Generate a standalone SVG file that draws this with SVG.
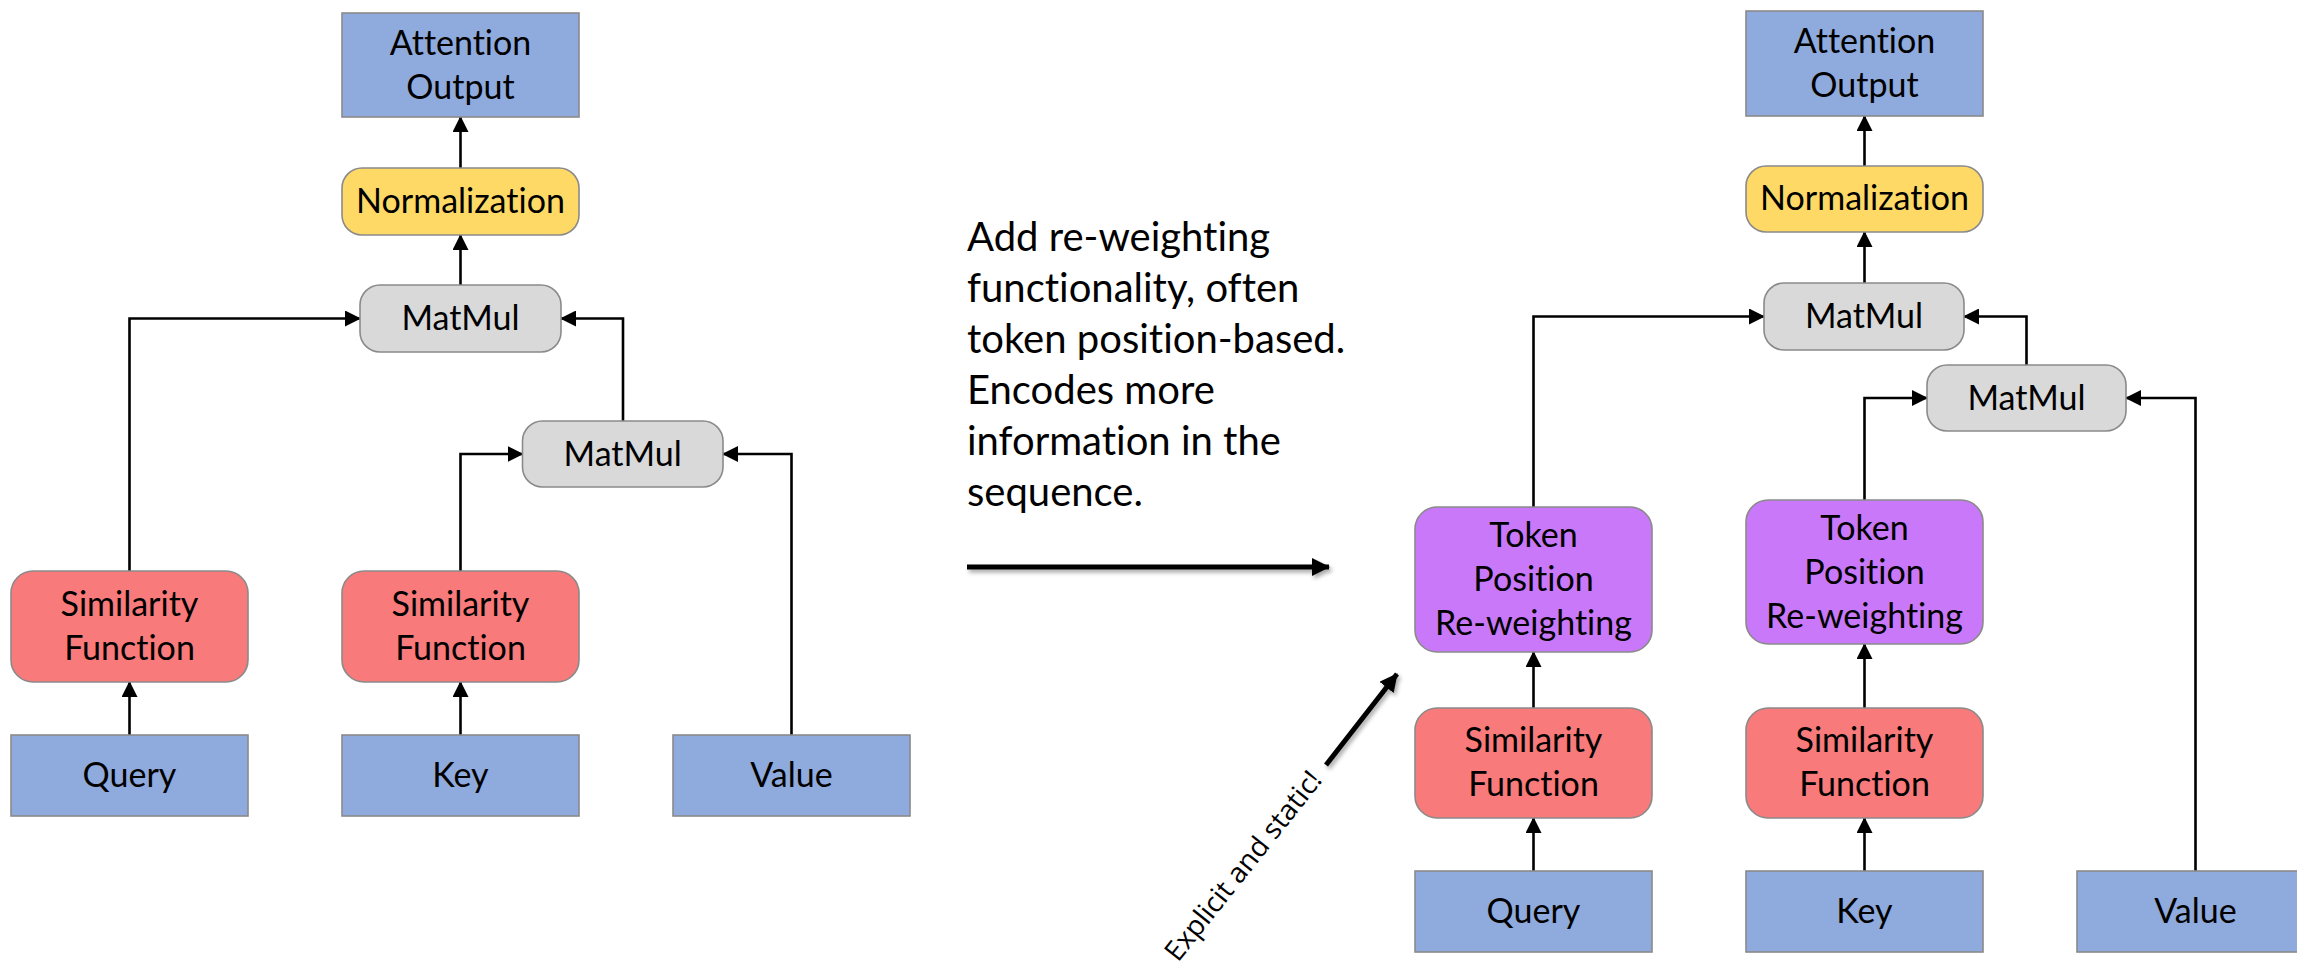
<svg xmlns="http://www.w3.org/2000/svg" width="2297" height="972" viewBox="0 0 2297 972">
  <defs>
    <style>
      text { font-variant-ligatures: none; }
      .box { stroke: #8a8a8a; stroke-width: 1.6; }
      .io { fill: #8faadc; }
      .norm { fill: #ffd966; }
      .mm { fill: #d9d9d9; }
      .sim { fill: #f87a7a; }
      .tok { fill: #c878f8; }
      .lbl { font-family: Lato, "Liberation Sans", sans-serif; font-size: 34px; fill: #000; text-anchor: middle; }
      .desc { font-family: Lato, "Liberation Sans", sans-serif; font-size: 40px; fill: #000; }
      .note { font-family: "Open Sans", "Liberation Sans", sans-serif; font-size: 28px; fill: #000; }
      .wire { fill: none; stroke: #000; stroke-width: 2.6; }
      .big { fill: none; stroke: #000; stroke-width: 5; }
    </style>
    <marker id="head" viewBox="0 0 16 16" refX="15" refY="8" markerWidth="16" markerHeight="16" markerUnits="userSpaceOnUse" orient="auto">
      <path d="M0,0 L16,8 L0,16 z" fill="#000"/>
    </marker>
    <marker id="bighead" viewBox="0 0 18 18" refX="17" refY="9" markerWidth="18" markerHeight="18" markerUnits="userSpaceOnUse" orient="auto">
      <path d="M0,0 L18,9 L0,18 z" fill="#000"/>
    </marker>
    <!-- soft drop shadow; user-space region so a flat horizontal line still renders -->
    <filter id="shadow" filterUnits="userSpaceOnUse" x="900" y="500" width="560" height="320">
      <feGaussianBlur in="SourceAlpha" stdDeviation="2"/>
      <feOffset dx="2" dy="3" result="b"/>
      <feComponentTransfer><feFuncA type="linear" slope="0.35"/></feComponentTransfer>
      <feMerge><feMergeNode/><feMergeNode in="SourceGraphic"/></feMerge>
    </filter>
  </defs>

  <rect width="2297" height="972" fill="#fff"/>

  <!-- connectors -->
  <g id="connectors">
    <!-- standard attention -->
    <path class="wire" d="M460.5,168 V117" marker-end="url(#head)"/>
    <path class="wire" d="M460.5,285 V235" marker-end="url(#head)"/>
    <path class="wire" d="M129.5,571 V318.5 H360" marker-end="url(#head)"/>
    <path class="wire" d="M623,421 V318.5 H561" marker-end="url(#head)"/>
    <path class="wire" d="M460.5,571 V454 H522.5" marker-end="url(#head)"/>
    <path class="wire" d="M791.5,735 V454 H723" marker-end="url(#head)"/>
    <path class="wire" d="M129.5,735 V682" marker-end="url(#head)"/>
    <path class="wire" d="M460.5,735 V682" marker-end="url(#head)"/>

    <!-- re-weighted attention -->
    <path class="wire" d="M1864.5,166 V116" marker-end="url(#head)"/>
    <path class="wire" d="M1864.5,283 V232" marker-end="url(#head)"/>
    <path class="wire" d="M1533.5,507 V316.5 H1764" marker-end="url(#head)"/>
    <path class="wire" d="M2026.5,365 V316.5 H1964" marker-end="url(#head)"/>
    <path class="wire" d="M1864.5,500 V398 H1927" marker-end="url(#head)"/>
    <path class="wire" d="M2195.5,871 V398 H2126" marker-end="url(#head)"/>
    <path class="wire" d="M1533.5,871 V818" marker-end="url(#head)"/>
    <path class="wire" d="M1864.5,871 V818" marker-end="url(#head)"/>
    <path class="wire" d="M1533.5,708 V652" marker-end="url(#head)"/>
    <path class="wire" d="M1864.5,708 V644" marker-end="url(#head)"/>

    <!-- transition arrows -->
    <path class="big" d="M967,567 H1329" marker-end="url(#bighead)" filter="url(#shadow)"/>
    <path class="big" d="M1326,765 L1397,674" marker-end="url(#bighead)" filter="url(#shadow)"/>
  </g>

  <!-- left: standard attention -->
  <g id="attn-out-a"><rect class="box io" x="342" y="13" width="237" height="104"/>
    <text class="lbl" x="460.5" y="55">Attention</text><text class="lbl" x="460.5" y="99">Output</text></g>
  <g id="norm-a"><rect class="box norm" x="342" y="168" width="237" height="67" rx="20"/>
    <text class="lbl" x="460.5" y="213">Normalization</text></g>
  <g id="matmul-a1"><rect class="box mm" x="360" y="285" width="201" height="67" rx="20"/>
    <text class="lbl" x="460.5" y="330">MatMul</text></g>
  <g id="matmul-a2"><rect class="box mm" x="522.5" y="421" width="200.5" height="66" rx="20"/>
    <text class="lbl" x="622.7" y="466">MatMul</text></g>
  <g id="sim-a1"><rect class="box sim" x="11" y="571" width="237" height="111" rx="22"/>
    <text class="lbl" x="129.5" y="616">Similarity</text><text class="lbl" x="129.5" y="660">Function</text></g>
  <g id="sim-a2"><rect class="box sim" x="342" y="571" width="237" height="111" rx="22"/>
    <text class="lbl" x="460.5" y="616">Similarity</text><text class="lbl" x="460.5" y="660">Function</text></g>
  <g id="query-a"><rect class="box io" x="11" y="735" width="237" height="81"/>
    <text class="lbl" x="129.5" y="787">Query</text></g>
  <g id="key-a"><rect class="box io" x="342" y="735" width="237" height="81"/>
    <text class="lbl" x="460.5" y="787">Key</text></g>
  <g id="value-a"><rect class="box io" x="673" y="735" width="237" height="81"/>
    <text class="lbl" x="791.5" y="787">Value</text></g>

  <!-- explanation -->
  <g id="explanation">
    <text class="desc" x="967" y="251">Add re-weighting</text>
    <text class="desc" x="967" y="302">functionality, often</text>
    <text class="desc" x="967" y="353">token position-based.</text>
    <text class="desc" x="967" y="404">Encodes more</text>
    <text class="desc" x="967" y="455">information in the</text>
    <text class="desc" x="967" y="506">sequence.</text>
  </g>
  <g id="note">
    <text class="note" transform="translate(1178,963) rotate(-51.5)">Explicit and static!</text>
  </g>

  <!-- right: attention with token position re-weighting -->
  <g id="attn-out-b"><rect class="box io" x="1746" y="11" width="237" height="105"/>
    <text class="lbl" x="1864.5" y="53">Attention</text><text class="lbl" x="1864.5" y="97">Output</text></g>
  <g id="norm-b"><rect class="box norm" x="1746" y="166" width="237" height="66" rx="20"/>
    <text class="lbl" x="1864.5" y="210">Normalization</text></g>
  <g id="matmul-b1"><rect class="box mm" x="1764" y="283" width="200" height="67" rx="20"/>
    <text class="lbl" x="1864" y="328">MatMul</text></g>
  <g id="matmul-b2"><rect class="box mm" x="1927" y="365" width="199" height="66" rx="20"/>
    <text class="lbl" x="2026.5" y="410">MatMul</text></g>
  <g id="token-b1"><rect class="box tok" x="1415" y="507" width="237" height="145" rx="22"/>
    <text class="lbl" x="1533.5" y="547">Token</text><text class="lbl" x="1533.5" y="591">Position</text><text class="lbl" x="1533.5" y="635">Re-weighting</text></g>
  <g id="token-b2"><rect class="box tok" x="1746" y="500" width="237" height="144" rx="22"/>
    <text class="lbl" x="1864.5" y="540">Token</text><text class="lbl" x="1864.5" y="584">Position</text><text class="lbl" x="1864.5" y="628">Re-weighting</text></g>
  <g id="sim-b1"><rect class="box sim" x="1415" y="708" width="237" height="110" rx="22"/>
    <text class="lbl" x="1533.5" y="752">Similarity</text><text class="lbl" x="1533.5" y="796">Function</text></g>
  <g id="sim-b2"><rect class="box sim" x="1746" y="708" width="237" height="110" rx="22"/>
    <text class="lbl" x="1864.5" y="752">Similarity</text><text class="lbl" x="1864.5" y="796">Function</text></g>
  <g id="query-b"><rect class="box io" x="1415" y="871" width="237" height="81"/>
    <text class="lbl" x="1533.5" y="923">Query</text></g>
  <g id="key-b"><rect class="box io" x="1746" y="871" width="237" height="81"/>
    <text class="lbl" x="1864.5" y="923">Key</text></g>
  <g id="value-b"><rect class="box io" x="2077" y="871" width="237" height="81"/>
    <text class="lbl" x="2195.5" y="923">Value</text></g>
</svg>
